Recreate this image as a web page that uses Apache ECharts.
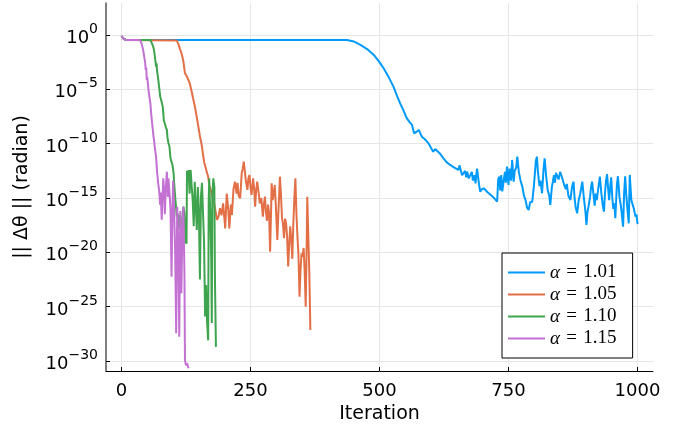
<!DOCTYPE html>
<html>
<head>
<meta charset="utf-8">
<script src="https://cdn.jsdelivr.net/npm/echarts@6/dist/echarts.min.js"></script>
<style>html,body{margin:0;padding:0;background:#fff}#c{width:685px;height:425px}</style>
</head>
<body>
<div id="c"></div>
<script>
// Data: [iteration, log10(||Δθ||)]
var seriesNames = ['α = 1.01', 'α = 1.05', 'α = 1.10', 'α = 1.15'];
var xTicks = [0, 250, 500, 750, 1000];
var yTicks = [-30, -25, -20, -15, -10, -5, 0];

var alpha101 = [[0,-0.1],[3,-0.3],[8,-0.46],[437,-0.46],[450,-0.6],[463,-0.92],[476,-1.3],[489,-1.84],[500,-2.5],[508,-3.07],[518,-3.9],[527,-4.75],[534,-5.6],[540,-6.29],[547,-7.0],[553,-7.67],[558,-8.0],[563,-8.28],[567,-9.05],[572,-8.9],[576,-8.74],[582,-9.36],[588,-9.6],[595,-9.97],[600,-10.4],[604,-10.74],[608,-10.5],[611,-10.43],[617,-10.9],[624,-11.35],[630,-11.7],[637,-11.96],[645,-12.2],[653,-12.42],[655,-12.0],[657,-12.12],[660,-12.9],[663,-12.88],[666,-12.5],[668,-13.1],[670,-12.58],[673,-13.2],[676,-13.19],[679,-12.6],[681,-13.4],[684,-12.9],[686,-13.65],[689,-12.3],[691,-12.27],[693,-13.8],[695,-14.42],[698,-14.2],[702,-14.11],[710,-14.5],[720,-14.9],[728,-15.34],[730,-13.3],[732,-13.04],[734,-14.3],[736,-12.9],[738,-14.4],[741,-14.42],[743,-12.6],[745,-13.6],[747,-12.12],[750,-13.8],[752,-12.3],[755,-13.4],[757,-11.5],[760,-13.5],[762,-12.5],[765,-12.2],[767,-11.2],[770,-12.6],[773,-13.34],[777,-14.0],[780,-14.8],[783,-15.18],[786,-15.9],[789,-16.1],[792,-15.4],[796,-15.34],[799,-14.0],[801,-12.8],[803,-11.6],[805,-11.2],[807,-12.6],[810,-13.9],[812,-13.4],[815,-14.57],[818,-12.3],[820,-11.35],[823,-13.0],[826,-14.3],[829,-14.8],[831,-15.64],[834,-14.0],[836,-13.5],[838,-12.9],[840,-13.6],[842,-12.7],[844,-12.73],[847,-13.3],[850,-12.6],[853,-13.0],[856,-12.9],[858,-13.8],[861,-14.2],[863,-13.7],[866,-14.8],[870,-15.18],[873,-14.0],[876,-13.5],[878,-15.0],[880,-15.8],[883,-16.41],[886,-15.2],[889,-14.6],[893,-13.5],[896,-15.0],[899,-16.2],[901,-17.48],[903,-16.3],[905,-15.8],[908,-14.9],[910,-14.0],[912,-13.5],[915,-14.8],[917,-15.7],[919,-14.6],[921,-15.2],[924,-14.1],[927,-13.04],[930,-14.6],[933,-15.8],[935,-16.26],[937,-14.5],[939,-13.4],[941,-12.8],[943,-14.1],[945,-15.2],[947,-14.0],[949,-13.1],[951,-14.9],[953,-16.0],[955,-15.5],[957,-16.87],[960,-13.8],[962,-13.0],[965,-14.9],[968,-15.8],[970,-16.7],[972,-17.64],[974,-14.6],[976,-13.0],[978,-14.6],[980,-15.8],[983,-17.33],[985,-12.88],[988,-15.2],[990,-15.3],[993,-16.0],[996,-16.72],[998,-16.5],[1000,-17.4]];

var alpha105 = [[0,-0.1],[3,-0.3],[8,-0.46],[107,-0.5],[110,-0.8],[113,-1.23],[117,-1.8],[120,-2.45],[123,-3.53],[126,-3.75],[129,-3.83],[132,-4.4],[136,-5.21],[139,-5.9],[143,-6.75],[146,-7.6],[149,-8.43],[152,-9.3],[156,-10.27],[158,-11.0],[160,-11.66],[163,-12.2],[166,-12.73],[168,-13.04],[170,-13.8],[175,-14.6],[180,-15.6],[185,-17.0],[188,-16.7],[191,-15.95],[194,-16.6],[197,-15.5],[201,-17.8],[204,-14.6],[207,-16.1],[209,-17.8],[212,-15.6],[214,-16.56],[217,-14.2],[220,-13.5],[223,-14.6],[225,-13.6],[227,-14.8],[230,-15.03],[233,-12.73],[235,-12.3],[237,-11.66],[239,-12.5],[241,-13.4],[244,-14.26],[246,-13.2],[248,-12.88],[250,-14.0],[252,-14.72],[255,-13.19],[257,-14.1],[259,-15.8],[261,-14.3],[263,-13.5],[266,-14.6],[268,-15.5],[271,-15.0],[274,-16.72],[276,-15.6],[278,-14.88],[280,-16.3],[282,-17.1],[284,-15.6],[286,-16.4],[288,-19.94],[290,-16.0],[291,-13.65],[293,-15.2],[295,-14.6],[297,-13.8],[299,-15.6],[302,-18.86],[304,-16.4],[306,-14.2],[307,-13.04],[309,-14.6],[311,-16.8],[313,-17.4],[315,-18.7],[317,-16.9],[319,-17.3],[321,-18.6],[323,-21.3],[325,-19.3],[327,-17.6],[329,-18.8],[331,-20.6],[333,-17.4],[335,-15.0],[337,-13.19],[339,-16.4],[341,-18.56],[343,-20.3],[345,-24.08],[347,-21.6],[349,-20.1],[351,-20.4],[353,-19.6],[355,-21.8],[357,-25.0],[359,-19.0],[360,-14.88],[362,-18.4],[364,-21.9],[366,-27.15]];

var alpha110 = [[0,-0.1],[3,-0.3],[8,-0.46],[56,-0.46],[59,-0.6],[61,-1.0],[63,-1.38],[65,-2.1],[67,-2.92],[68,-2.6],[69,-3.3],[71,-3.99],[73,-4.8],[75,-5.67],[77,-6.0],[80,-6.6],[82,-7.82],[84,-8.0],[86,-8.5],[88,-8.74],[89,-9.4],[91,-9.97],[93,-10.27],[95,-11.35],[97,-11.2],[99,-12.0],[101,-12.73],[102,-13.6],[104,-14.88],[106,-16.0],[107,-16.72],[109,-16.4],[110,-17.8],[112,-16.6],[113,-17.33],[115,-18.0],[117,-17.2],[120,-15.8],[122,-16.4],[124,-19.0],[126,-19.2],[127,-12.5],[129,-13.34],[130,-12.42],[132,-14.6],[134,-12.42],[136,-13.9],[138,-15.2],[140,-17.6],[142,-13.5],[144,-15.8],[146,-17.94],[148,-14.0],[150,-16.2],[152,-22.5],[154,-14.9],[156,-13.6],[158,-16.4],[160,-19.0],[162,-25.9],[164,-23.0],[166,-26.5],[168,-28.1],[169,-15.2],[170,-13.19],[172,-16.4],[174,-20.8],[175,-26.5],[176,-14.8],[178,-13.19],[180,-14.0],[181,-22.0],[183,-28.7]];

var alpha115 = [[0,-0.1],[3,-0.3],[8,-0.46],[36,-0.46],[39,-0.8],[42,-1.38],[44,-2.0],[46,-2.6],[47,-3.22],[48,-3.0],[49,-4.14],[50,-3.9],[52,-4.9],[54,-5.67],[56,-6.29],[58,-7.5],[60,-8.4],[62,-9.3],[63,-9.66],[65,-10.5],[67,-11.2],[69,-12.58],[71,-13.6],[73,-14.3],[75,-15.64],[76,-14.5],[78,-17.0],[79,-15.6],[81,-13.19],[83,-14.8],[84,-16.5],[86,-14.0],[88,-12.58],[90,-14.9],[91,-13.2],[93,-14.5],[95,-16.0],[97,-22.24],[99,-15.6],[100,-13.4],[102,-16.0],[104,-20.0],[106,-27.45],[108,-15.8],[110,-19.0],[112,-27.76],[114,-16.2],[116,-23.77],[118,-18.0],[120,-15.8],[122,-22.0],[123,-29.9],[125,-30.4],[127,-30.2],[130,-30.67]];

var colors = ['#009AFA', '#E36F47', '#3EA44E', '#C371D2'];
var allData = [alpha101, alpha105, alpha110, alpha115];

var chart = echarts.init(document.getElementById('c'), null, {renderer: 'canvas'});
var sansFont = 'DejaVu Sans';
chart.setOption({
  animation: false,
  backgroundColor: '#fff',
  color: colors,
  grid: {left: 106, right: 32, top: 3, bottom: 54, outerBoundsMode: 'none', containLabel: false},
  xAxis: {
    type: 'value', min: -30, max: 1030,
    name: 'Iteration', nameLocation: 'middle', nameGap: 32,
    nameTextStyle: {fontFamily: sansFont, fontSize: 19, color: '#000'},
    axisLine: {show: true, onZero: false, lineStyle: {color: '#000', width: 1}},
    axisTick: {show: true, inside: true, length: 4, lineStyle: {color: '#000'}, customValues: xTicks},
    axisLabel: {customValues: xTicks, fontFamily: sansFont, fontSize: 18, color: '#000', margin: 11,
      formatter: function (v) { return String(v); }},
    splitLine: {show: true, lineStyle: {color: '#e6e6e6', width: 1}}
  },
  yAxis: {
    type: 'value', min: -30.92, max: 2.94,
    name: '|| Δθ || (radian)', nameLocation: 'middle', nameGap: 74,
    nameTextStyle: {fontFamily: sansFont, fontSize: 19, color: '#000'},
    axisLine: {show: true, onZero: false, lineStyle: {color: '#555', width: 1.5}},
    axisTick: {show: true, inside: true, length: 4, lineStyle: {color: '#000'}, customValues: yTicks},
    axisLabel: {
      customValues: yTicks, margin: 8, color: '#000',
      formatter: function (v) {
        var e = Math.round(v);
        return '{b|10}{e|' + (e < 0 ? '\u2212' + (-e) : String(e)) + '}';
      },
      rich: {
        b: {fontFamily: sansFont, fontSize: 18, color: '#000', padding: [7, 0, 0, 0]},
        e: {fontFamily: sansFont, fontSize: 14, color: '#000', verticalAlign: 'top'}
      }
    },
    splitLine: {show: true, lineStyle: {color: '#e6e6e6', width: 1}}
  },
  legend: {
    left: 502, top: 253, orient: 'vertical',
    backgroundColor: '#fff', borderColor: '#000', borderWidth: 1, borderRadius: 0,
    padding: [10, 16, 10, 6],
    itemWidth: 37, itemHeight: 2, itemGap: 3, icon: 'rect',
    data: seriesNames,
    textStyle: {fontFamily: 'Liberation Serif', fontSize: 19, color: '#000',
      rich: {i: {fontFamily: 'Liberation Serif', fontSize: 19, fontStyle: 'italic', color: '#000'}}},
    formatter: function (name) { return '{i|α}\u200A = \u200A' + name.slice(4); }
  },
  series: allData.map(function (d, i) {
    return {
      name: seriesNames[i], type: 'line', data: d,
      symbol: 'none', showSymbol: false,
      lineStyle: {width: 2, color: colors[i]}, itemStyle: {color: colors[i]},
      z: 2 + i
    };
  })
});
</script>
</body>
</html>
